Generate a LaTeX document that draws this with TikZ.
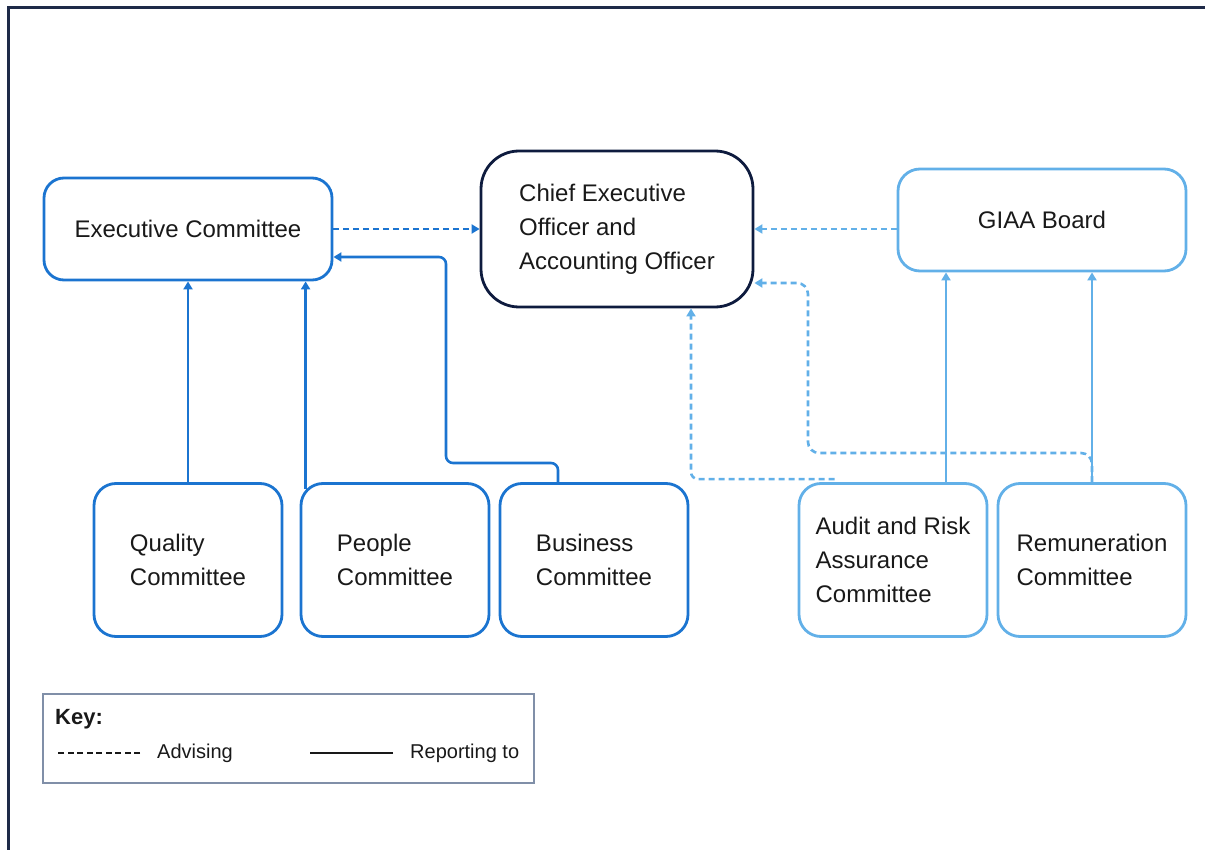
\documentclass[tikz,border=0pt]{standalone}
\usepackage{fontspec}
\setmainfont{Liberation Sans}
\usetikzlibrary{arrows.meta}

\definecolor{midblue}{RGB}{27,116,208}
\definecolor{lightblue}{RGB}{98,176,232}
\definecolor{navy}{RGB}{14,27,62}
\definecolor{framenavy}{RGB}{30,42,72}
\definecolor{keygrey}{RGB}{128,143,168}
\definecolor{inkgrey}{RGB}{25,25,25}

\begin{document}
\begin{tikzpicture}[x=1pt, y=-1pt,
    box/.style={rectangle, draw, line width=2.8pt, rounded corners=22pt, align=left,
        text=inkgrey, font=\fontsize{24}{34}\selectfont,
        minimum width=188pt, minimum height=153pt},
    report/.style={line width=2.6pt, -{Triangle[length=8pt,width=9pt]}, rounded corners=7pt},
    advise/.style={report, dash pattern=on 6pt off 4pt},
    keytext/.style={anchor=west, inner sep=0pt, text=inkgrey, font=\fontsize{20}{24}\selectfont}]
    \useasboundingbox (0,0) rectangle (1205,850);

    % outer frame (top and left edges only)
    \draw[framenavy, line width=3pt] (8,850) -- (8,8) -- (1205,8);

    \node[box, draw=midblue, minimum width=288pt, minimum height=102pt, rounded corners=20pt] (exec) at (188,229) {Executive Committee};
    \node[box, draw=navy, minimum width=272pt, minimum height=156pt, rounded corners=38pt] (ceo) at (617,229) {Chief Executive\\Officer and\\Accounting Officer};
    \node[box, draw=lightblue, minimum width=288pt, minimum height=102pt] (giaa) at (1042,220) {GIAA Board};

    \node[box, draw=midblue] (quality) at (188,560) {Quality\\Committee};
    \node[box, draw=midblue] (people) at (395,560) {People\\Committee};
    \node[box, draw=midblue] (business) at (594,560) {Business\\Committee};
    \node[box, draw=lightblue] (audit) at (893,560) {Audit and Risk\\Assurance\\Committee};
    \node[box, draw=lightblue] (remun) at (1092,560) {Remuneration\\Committee};

    % left group
    \draw[advise, midblue] (exec.east) -- (ceo.west);
    \draw[report, midblue] (quality.north) -- (exec.south);
    \draw[report, midblue] ([xshift=6pt,yshift=-7pt]people.north west) -- ([xshift=6pt]people.north west |- exec.south);
    \draw[report, midblue] ([xshift=-36pt]business.north) |- (446,463) |- (exec.east |- 0,257);

    % right group
    \draw[advise, lightblue] (giaa.west |- ceo.east) -- (ceo.east);
    \draw[report, lightblue] (audit.north -| 946,0) -- (giaa.south -| 946,0);
    \draw[report, lightblue] (remun.north) -- (giaa.south -| remun.north);
    \draw[advise, lightblue, rounded corners=11pt] (remun.north) |- (808,453) |- (ceo.east |- 0,283);
    \draw[advise, lightblue] ([xshift=37pt,yshift=3pt]audit.north west) -| (ceo.south -| 691,0);

    % key
    \node[draw=keygrey, line width=1.5pt, minimum width=491pt, minimum height=89pt, inner sep=0pt] (keybox) at (288.5,738.5) {};
    \node[keytext, font=\fontsize{22}{26}\selectfont\bfseries] (keytitle) at (55,719) {Key:};
    \node[keytext] (advtext) at (157,753) {Advising};
    \node[keytext] (reptext) at (410,753) {Reporting to};
    \draw[inkgrey, line width=1.8pt, dash pattern=on 6pt off 3.5pt] ([xshift=-17pt]advtext.west) -- ++(-82,0);
    \draw[inkgrey, line width=1.8pt] ([xshift=-17pt]reptext.west) -- ++(-83,0);
\end{tikzpicture}
\end{document}
